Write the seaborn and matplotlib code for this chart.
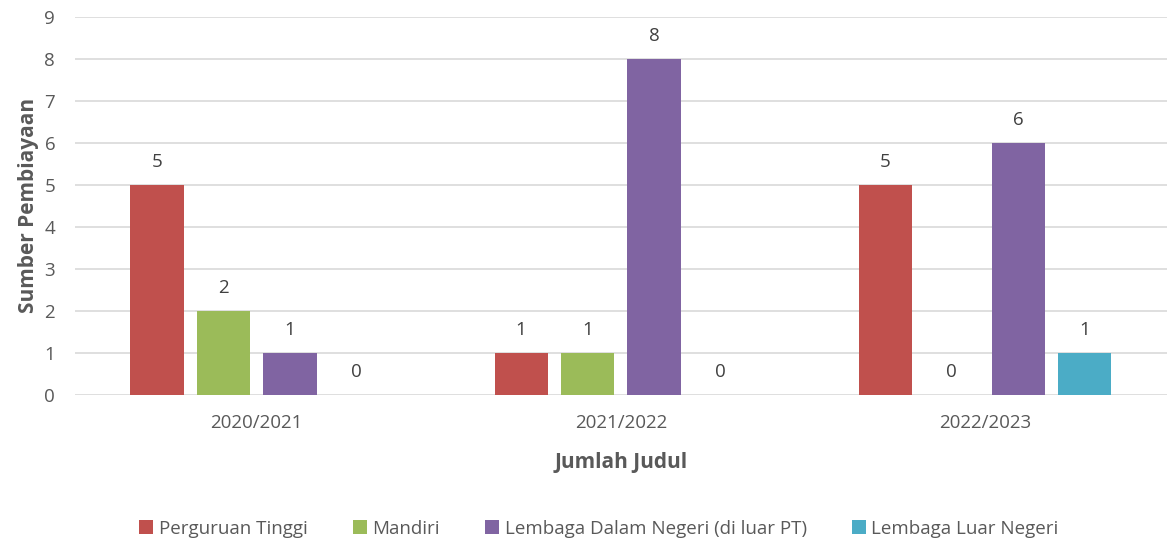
import pandas as pd
import seaborn as sns
import matplotlib.pyplot as plt

years = ['2020/2021', '2021/2022', '2022/2023']
sources = ['Perguruan Tinggi', 'Mandiri', 'Lembaga Dalam Negeri (di luar PT)', 'Lembaga Luar Negeri']
perguruan_tinggi = [5, 1, 5]
mandiri = [2, 1, 0]
lembaga_dn = [1, 8, 6]
lembaga_ln = [0, 0, 1]
colors = ['#C0504D', '#9BBB59', '#8064A2', '#4BACC6']

rows = []
for src, vals in zip(sources, [perguruan_tinggi, mandiri, lembaga_dn, lembaga_ln]):
    for yr, v in zip(years, vals):
        rows.append({'tahun': yr, 'sumber': src, 'jumlah': v})
df = pd.DataFrame(rows)

sns.set_style('white')
plt.rcParams['font.family'] = ['Open Sans', 'DejaVu Sans']

fig = plt.figure(figsize=(11.67, 5.44), dpi=100)
ax = fig.add_axes([0.064, 0.274, 0.936, 0.695])

sns.barplot(data=df, x='tahun', y='jumlah', hue='sumber', order=years, hue_order=sources,
            palette=colors, width=0.73, gap=0.2, saturation=1, ax=ax, legend=True,
            edgecolor='none')

for c in ax.containers:
    ax.bar_label(c, padding=10, fontsize=13.5, color='#404040')

ax.set_ylim(0, 9)
ax.set_yticks(range(0, 10))
ax.yaxis.grid(True, color='#D9D9D9', linewidth=1.2)
ax.set_axisbelow(True)
for s in ax.spines.values():
    s.set_visible(False)
ax.tick_params(axis='both', length=0, labelsize=13.5, labelcolor='#595959')
ax.tick_params(axis='x', pad=14)
ax.tick_params(axis='y', pad=14)
ax.set_xlabel('Jumlah Judul', fontsize=15, fontweight='bold', color='#595959', labelpad=14)
ax.set_ylabel('Sumber Pembiayaan', fontsize=15, fontweight='bold', color='#595959', labelpad=4)

ax.legend(loc='upper center', bbox_to_anchor=(0.48, -0.285), ncol=4, frameon=False,
          fontsize=13.5, labelcolor='#595959', handlelength=0.75, handleheight=0.75,
          handletextpad=0.3, columnspacing=2.4)

fig.savefig('out.png', dpi=100)
